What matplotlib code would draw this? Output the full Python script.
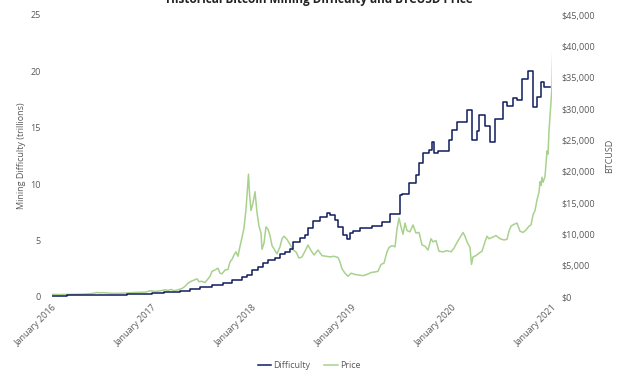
import numpy as np
import matplotlib
matplotlib.use("Agg")
import matplotlib.pyplot as plt
from matplotlib.ticker import FuncFormatter

# =============================================================================
# Data, x in decimal years
# =============================================================================
diff_year = [2016.00, 2016.15, 2016.35, 2016.55, 2016.75, 2016.90, 2017.00, 2017.12,
             2017.28, 2017.38, 2017.48, 2017.60, 2017.71, 2017.80, 2017.90, 2017.95,
             2018.00, 2018.06, 2018.11, 2018.16, 2018.23, 2018.28, 2018.33, 2018.38,
             2018.41, 2018.48, 2018.53, 2018.56, 2018.61, 2018.68, 2018.75, 2018.78,
             2018.83, 2018.86, 2018.91, 2018.95, 2018.98, 2019.01, 2019.08, 2019.20,
             2019.30, 2019.38, 2019.48, 2019.50, 2019.57, 2019.64, 2019.67, 2019.71,
             2019.77, 2019.80, 2019.82, 2019.86, 2019.97, 2020.00, 2020.05, 2020.15,
             2020.20, 2020.25, 2020.27, 2020.33, 2020.38, 2020.43, 2020.51, 2020.55,
             2020.61, 2020.65, 2020.70, 2020.76, 2020.81, 2020.85, 2020.89, 2020.92,
             2020.98]
diff_val = [0.10, 0.16, 0.20, 0.22, 0.25, 0.31, 0.33, 0.42,
            0.50, 0.70, 0.90, 1.06, 1.25, 1.50, 1.80, 1.95,
            2.40, 2.70, 3.00, 3.30, 3.50, 3.80, 4.00, 4.25,
            4.90, 5.20, 5.50, 6.10, 6.70, 7.10, 7.45, 7.30,
            6.80, 6.20, 5.50, 5.10, 5.70, 5.85, 6.10, 6.30,
            6.65, 7.40, 9.00, 9.10, 10.1, 10.8, 11.9, 12.8,
            13.0, 13.7, 12.8, 12.9, 13.9, 14.8, 15.5, 16.6,
            13.9, 14.7, 16.1, 15.2, 13.7, 15.8, 17.3, 16.9,
            17.6, 17.5, 19.3, 20.0, 16.8, 17.7, 19.1, 18.6,
            18.6]

price_year = [2016.00, 2016.04, 2016.08, 2016.12, 2016.17, 2016.22, 2016.27, 2016.32,
              2016.37, 2016.41, 2016.45, 2016.47, 2016.49, 2016.51, 2016.54, 2016.58,
              2016.62, 2016.66, 2016.71, 2016.75, 2016.80, 2016.85, 2016.90, 2016.94,
              2016.97, 2017.00, 2017.02, 2017.05, 2017.09, 2017.13, 2017.16, 2017.19,
              2017.22, 2017.26, 2017.30, 2017.33, 2017.36, 2017.39, 2017.42, 2017.45,
              2017.47, 2017.50, 2017.53, 2017.55, 2017.58, 2017.60, 2017.63, 2017.66,
              2017.68, 2017.70, 2017.73, 2017.76, 2017.78, 2017.80, 2017.82, 2017.84,
              2017.86, 2017.88, 2017.90, 2017.92, 2017.94, 2017.955, 2017.965, 2017.975,
              2017.99, 2018.01, 2018.03, 2018.05, 2018.07, 2018.09, 2018.10, 2018.12,
              2018.14, 2018.16, 2018.18, 2018.20, 2018.23, 2018.25, 2018.28, 2018.30,
              2018.32, 2018.35, 2018.38, 2018.41, 2018.44, 2018.47, 2018.50, 2018.53,
              2018.56, 2018.59, 2018.62, 2018.66, 2018.70, 2018.74, 2018.78, 2018.82,
              2018.86, 2018.88, 2018.90, 2018.93, 2018.96, 2018.99, 2019.03, 2019.07,
              2019.11, 2019.15, 2019.19, 2019.23, 2019.26, 2019.29, 2019.32, 2019.35,
              2019.37, 2019.40, 2019.43, 2019.45, 2019.47, 2019.49, 2019.51, 2019.53,
              2019.55, 2019.58, 2019.61, 2019.64, 2019.67, 2019.70, 2019.73, 2019.76,
              2019.79, 2019.81, 2019.84, 2019.87, 2019.91, 2019.95, 2019.99, 2020.02,
              2020.05, 2020.08, 2020.11, 2020.13, 2020.15, 2020.18, 2020.195, 2020.21,
              2020.24, 2020.27, 2020.30, 2020.33, 2020.35, 2020.37, 2020.40, 2020.44,
              2020.48, 2020.52, 2020.55, 2020.57, 2020.59, 2020.62, 2020.65, 2020.68,
              2020.71, 2020.74, 2020.77, 2020.79, 2020.81, 2020.83, 2020.85, 2020.87,
              2020.88, 2020.89, 2020.90, 2020.91, 2020.93, 2020.95, 2020.96, 2020.97,
              2020.98, 2020.99, 2021.00, 2021.005, 2021.01]
price_val = [430, 400, 390, 420, 415, 440, 450, 460,
             530, 580, 720, 680, 650, 700, 660, 600,
             580, 590, 610, 640, 700, 740, 760, 780,
             950, 1000, 900, 920, 1000, 1150, 1050, 1200,
             1000, 1150, 1350, 1700, 2200, 2500, 2700, 2900,
             2450, 2500, 2300, 2700, 3300, 4100, 4300, 4600,
             3800, 3700, 4300, 4400, 5600, 6000, 6700, 7200,
             6500, 8100, 9500, 11000, 14000, 17500, 19600, 16500,
             13800, 15000, 16800, 13500, 11300, 10200, 7600, 8600,
             11200, 10800, 9800, 8200, 7400, 6900, 8000, 9300,
             9700, 9200, 8400, 7500, 7200, 6200, 6400, 7300,
             8300, 7400, 6700, 7500, 6600, 6500, 6400, 6500,
             6300, 5600, 4500, 3800, 3300, 3800, 3600, 3500,
             3400, 3600, 3900, 4000, 4100, 5200, 5400, 7200,
             7900, 8200, 8000, 10800, 12600, 11200, 10000, 11800,
             10600, 10400, 11500, 10200, 10300, 8300, 8100, 7500,
             9300, 8800, 9000, 7300, 7200, 7400, 7200, 7800,
             8700, 9500, 10300, 9700, 8800, 7900, 5200, 6400,
             6600, 7000, 7300, 8800, 9700, 9300, 9500, 9800,
             9300, 9100, 9200, 10500, 11300, 11600, 11800, 10500,
             10300, 10700, 11300, 11500, 13100, 13800, 15500, 16700,
             18400, 17800, 19100, 18300, 19200, 23300, 22800, 26500,
             28900, 31500, 33500, 37000, 41000]

diff_ticks = [0, 5, 10, 15, 20, 25]
price_ticks = [0, 5000, 10000, 15000, 20000, 25000, 30000, 35000, 40000, 45000]
year_ticks = [2016, 2017, 2018, 2019, 2020, 2021]
year_labels = ["January 2016", "January 2017", "January 2018",
               "January 2019", "January 2020", "January 2021"]

navy = "#0f1b5c"
green = "#a9d18e"
grey = "#595959"

plt.rcParams["font.family"] = ["Open Sans", "DejaVu Sans"]

fig = plt.figure(figsize=(6.39, 3.81), dpi=100)
ax = fig.add_axes([52 / 639, 84 / 381, 500 / 639, 282 / 381])
ax2 = ax.twinx()

ax.step(diff_year, diff_val, where="post", color=navy, lw=1.1, zorder=3)
ax2.plot(price_year, price_val, color=green, lw=1.1, zorder=2)

ax.set_zorder(ax2.get_zorder() + 1)
ax.patch.set_visible(False)

ax.set_xlim(2016.0, 2021.0)
ax.set_ylim(0, 25)
ax2.set_ylim(0, 45000)
ax.set_yticks(diff_ticks)
ax2.set_yticks(price_ticks)
ax2.yaxis.set_major_formatter(FuncFormatter(lambda v, p: "${:,.0f}".format(v)))
ax.set_xticks(year_ticks)
ax.set_xticklabels(year_labels, rotation=45, ha="right", va="top",
                   rotation_mode="anchor")

for a in (ax, ax2):
    for s in a.spines.values():
        s.set_visible(False)
    a.tick_params(length=0, labelsize=6.5, colors=grey)
ax.tick_params(axis="y", pad=8)
ax.tick_params(axis="x", pad=4)
ax2.tick_params(axis="y", pad=7)

ax.set_ylabel("Mining Difficulty (trillions)", fontsize=6.5, color=grey, labelpad=3)
ax2.set_ylabel("BTCUSD", fontsize=6.5, color=grey, labelpad=7)

fig.text(0.5, 1.0, "Historical Bitcoin Mining Difficulty and BTCUSD Price",
         ha="center", va="center", fontsize=8.5, fontweight="bold", color="#222222")

# legend
h1, = ax.plot([], [], color=navy, lw=1.1)
h2, = ax.plot([], [], color=green, lw=1.1)
fig.legend([h1, h2], ["Difficulty", "Price"], loc="center", ncol=2,
           bbox_to_anchor=(309 / 639, 1 - 366 / 381), frameon=False,
           fontsize=6.5, handlelength=1.5, handletextpad=0.2, columnspacing=1.6,
           labelcolor=grey)

fig.text(15 / 639, -0.018, "Source: Coin Metrics, CoinDesk Research",
         ha="left", va="center", fontsize=6.5, color=grey)
fig.text(555 / 639, -0.025, "coindesk", ha="left", va="center",
         fontsize=12, color="#333333")
fig.text(540 / 639, -0.012, "\u2022\u2022\u2022", ha="left", va="center",
         fontsize=5, color="#f5b300")

fig.savefig("out.png", dpi=100)
